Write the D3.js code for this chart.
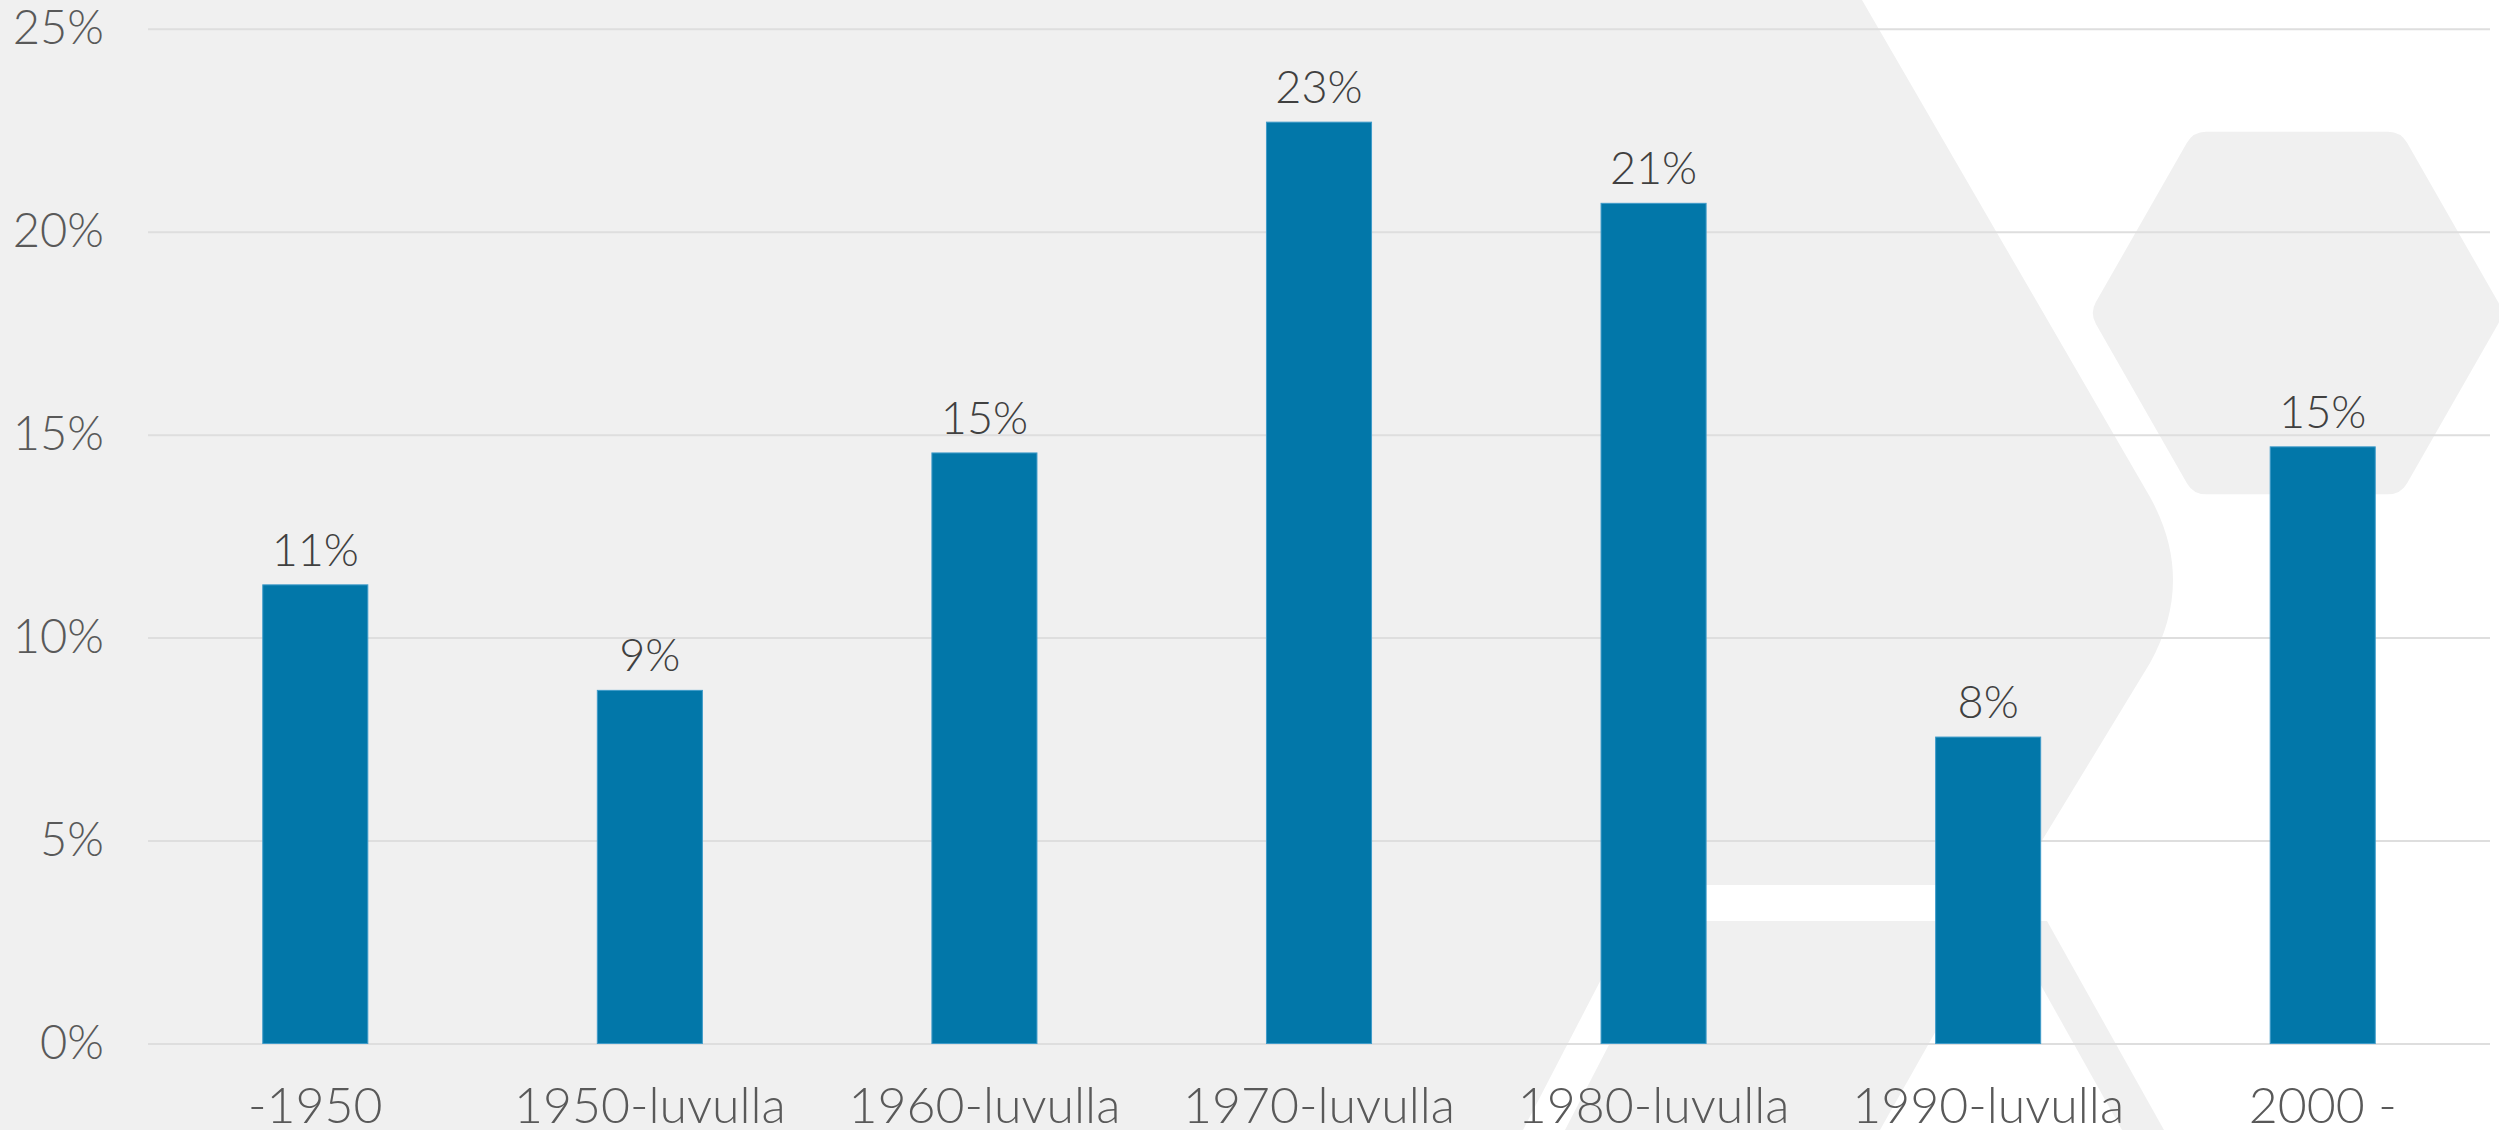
<!DOCTYPE html>
<html>
<head>
<meta charset="utf-8">
<script src="https://cdn.jsdelivr.net/npm/d3@7"></script>
<style>
  html, body { margin: 0; padding: 0; background: #ffffff; }
  svg { display: block; }
  text { font-family: "Century Gothic", "Lato", sans-serif; font-weight: 300; }
</style>
</head>
<body>
<div id="chart"></div>
<script>
// rakennusvuosikymmen
var categories = ["-1950", "1950-luvulla", "1960-luvulla", "1970-luvulla", "1980-luvulla", "1990-luvulla", "2000 -"];
var shares = [0.113, 0.087, 0.1455, 0.227, 0.207, 0.0755, 0.147];
var yTicks = [0, 0.05, 0.10, 0.15, 0.20, 0.25];

var width = 2499;
var height = 1130;
var plotLeft = 148, plotRight = 2490, plotTop = 28.8, plotBottom = 1043.5;

var svg = d3.select("#chart").append("svg")
    .attr("width", width)
    .attr("height", height);

svg.append("rect")
    .attr("width", width)
    .attr("height", height)
    .attr("fill", "#ffffff");

// background decoration (light grey logo shapes)
var bg = svg.append("g").attr("fill", "#f0f0f0");

bg.append("path")
    .attr("d", "M0,0 L1862,0 L2150,497 Q2196,580 2150,663 L2015,885 L1650,885 L1523,1130 L0,1130 Z");

bg.append("path")
    .attr("d", "M1673,921 L1998,921 L1880,1130 L1565,1130 Z");

bg.append("path")
    .attr("d", "M2005,921 L2047,921 L2164,1130 L2122,1130 Z");

var hex = d3.range(6).map(function (i) {
    var a = Math.PI / 3 * i;
    return [2297 + 182 * Math.cos(a), 313 + 184 * Math.sin(a)];
});
bg.append("polygon")
    .attr("points", hex.map(function (p) { return p.join(","); }).join(" "))
    .attr("stroke", "#f0f0f0")
    .attr("stroke-width", 44)
    .attr("stroke-linejoin", "round");

var x = d3.scaleBand()
    .domain(categories)
    .range([plotLeft, plotRight])
    .paddingInner(0.686)
    .paddingOuter(0.343);

var y = d3.scaleLinear()
    .domain([0, 0.25])
    .range([plotBottom, plotTop]);

// gridlines + y labels
var yAxis = svg.append("g")
    .attr("transform", "translate(" + plotLeft + ",0)")
    .call(d3.axisLeft(y)
        .tickValues(yTicks)
        .tickFormat(d3.format(".0%"))
        .tickSize(-(plotRight - plotLeft))
        .tickPadding(44));

yAxis.select(".domain").remove();
yAxis.selectAll(".tick line")
    .attr("stroke", "#dedede")
    .attr("stroke-width", 2);
yAxis.selectAll(".tick text")
    .attr("fill", "#595959")
    .style("font-size", "47px");

// bars
svg.append("g").selectAll("rect")
    .data(shares)
    .enter().append("rect")
    .attr("x", function (d, i) { return x(categories[i]); })
    .attr("y", function (d) { return y(d); })
    .attr("width", x.bandwidth())
    .attr("height", function (d) { return plotBottom - y(d); })
    .attr("fill", "#0277a9")
    .attr("stroke", "#3f9bc9")
    .attr("stroke-width", 1);

// value labels
svg.append("g").selectAll("text")
    .data(shares)
    .enter().append("text")
    .attr("x", function (d, i) { return x(categories[i]) + x.bandwidth() / 2; })
    .attr("y", function (d) { return y(d) - 19; })
    .attr("text-anchor", "middle")
    .attr("fill", "#404040")
    .style("font-size", "45px")
    .text(d3.format(".0%"));

// category labels
var xAxis = svg.append("g")
    .attr("transform", "translate(0," + plotBottom + ")")
    .call(d3.axisBottom(x).tickSize(0).tickPadding(44));

xAxis.select(".domain").remove();
xAxis.selectAll(".tick text")
    .attr("fill", "#595959")
    .style("font-size", "50px");
</script>
</body>
</html>
